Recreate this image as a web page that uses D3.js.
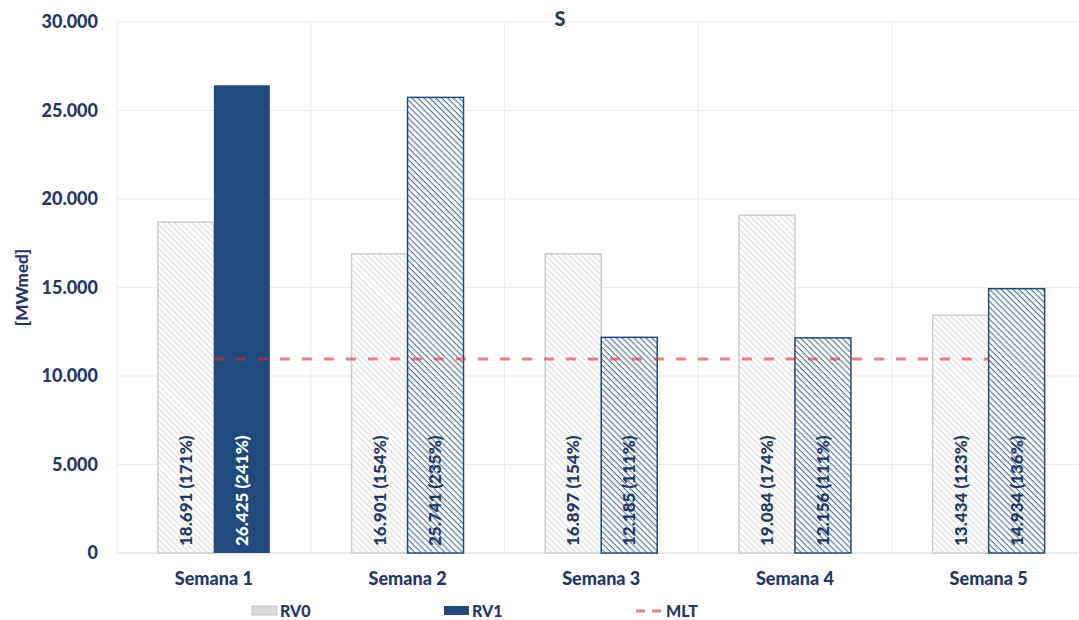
<!DOCTYPE html>
<html><head><meta charset="utf-8">
<script src="https://cdn.jsdelivr.net/npm/d3@7"></script>
<style>body{margin:0;background:#fff}svg{display:block;font-family:Lato,"Open Sans",sans-serif}</style>
</head><body><svg id="c" width="1079" height="620"></svg>
<script>
const categories = ["Semana 1","Semana 2","Semana 3","Semana 4","Semana 5"];
const rv0 = [18691, 16901, 16897, 19084, 13434];
const rv1 = [26425, 25741, 12185, 12156, 14934];
const rv0Pct = [171, 154, 154, 174, 123];
const rv1Pct = [241, 235, 111, 111, 136];
const mlt = [10960, 10960, 10960, 10960, 10960];
const yTicks = [0, 5000, 10000, 15000, 20000, 25000, 30000];
const seriesNames = ["RV0", "RV1", "MLT"];
const title = "S";
const yTitle = "[MWmed]";

const navy = "#1F3864", barNavy = "#204A7C";
const svg = d3.select("#c");
const L = 117, R = 1085.5, T = 22, B = 553;
const x0 = d3.scaleBand().domain(categories).range([L, R]).padding(0);
const x1 = d3.scaleBand().domain(["RV0","RV1"]).range([0, x0.bandwidth()]).paddingInner(0).paddingOuter(0.73);
const y = d3.scaleLinear().domain([0, 30000]).range([B, T]);
const fmt = v => d3.format(",")(v).replace(/,/g, ".");

const defs = svg.append("defs");
function hatch(id, color, w){
  const p = defs.append("pattern").attr("id", id).attr("patternUnits","userSpaceOnUse")
    .attr("width", 4.2).attr("height", 4.2).attr("patternTransform","rotate(45)");
  p.append("rect").attr("width",4.2).attr("height",4.2).attr("fill","#fff");
  p.append("rect").attr("x",0).attr("y",0).attr("width",4.2).attr("height",w).attr("fill",color);
}
hatch("hGray", "#dcdcdc", 1.1);
hatch("hNavy", "#4C70A3", 1.1);

// grid
svg.append("g").selectAll("line").data(yTicks).join("line")
  .attr("x1", L).attr("x2", R).attr("y1", d => y(d)).attr("y2", d => y(d))
  .attr("stroke", d => d === 0 ? "#d6d6d6" : "#ececec").attr("stroke-width", 1);
svg.append("g").selectAll("line").data(categories).join("line")
  .attr("x1", d => x0(d)).attr("x2", d => x0(d)).attr("y1", T).attr("y2", B)
  .attr("stroke", "#ececec");

// y labels
svg.append("g").selectAll("text").data(yTicks).join("text")
  .attr("x", 98).attr("y", d => y(d)).attr("dy", "0.35em").attr("text-anchor","end")
  .attr("fill", navy).attr("font-weight","900").attr("font-size", 18).text(fmt);

// bars
const g = svg.append("g");
categories.forEach((c, i) => {
  g.append("rect").attr("x", x0(c) + x1("RV0")).attr("y", y(rv0[i]))
    .attr("width", x1.bandwidth()).attr("height", B - y(rv0[i]))
    .attr("fill", "url(#hGray)").attr("stroke", "#cccccc").attr("stroke-width", 1.5);
  g.append("rect").attr("x", x0(c) + x1("RV1")).attr("y", y(rv1[i]))
    .attr("width", x1.bandwidth()).attr("height", B - y(rv1[i]))
    .attr("fill", i === 0 ? barNavy : "url(#hNavy)").attr("stroke", barNavy).attr("stroke-width", i === 0 ? 0 : 1.5);
});

// labels
categories.forEach((c, i) => {
  [["RV0", rv0[i], rv0Pct[i], navy], ["RV1", rv1[i], rv1Pct[i], i === 0 ? "#fff" : navy]].forEach(([s, v, p, col]) => {
    const cx = x0(c) + x1(s) + x1.bandwidth()/2;
    svg.append("text").attr("transform", `translate(${cx},${B - 7}) rotate(-90)`)
      .attr("dy", "0.35em").attr("fill", col).attr("font-weight","900").attr("font-size", 17)
      .text(`${fmt(v)} (${p}%)`);
  });
});

// MLT line
const line = d3.line().x((d, i) => x0(categories[i]) + x0.bandwidth()/2).y(d => y(d));
svg.append("path").datum(mlt).attr("d", line).attr("fill","none")
  .attr("stroke", "rgb(213,47,47)").attr("stroke-opacity", 0.6).attr("stroke-width", 3)
  .attr("stroke-dasharray", "10,12");

// x labels
svg.append("g").selectAll("text").data(categories).join("text")
  .attr("x", d => x0(d) + x0.bandwidth()/2).attr("y", 579).attr("dy","0.35em").attr("text-anchor","middle")
  .attr("fill", navy).attr("font-weight","900").attr("font-size", 18).text(d => d);

// title
svg.append("text").attr("x", 560).attr("y", 19).attr("dy","0.35em").attr("text-anchor","middle")
  .attr("fill", navy).attr("font-weight","900").attr("font-size", 20).text(title);
svg.append("text").attr("transform", `translate(22,${(T+B)/2}) rotate(-90)`).attr("dy","0.35em")
  .attr("text-anchor","middle").attr("fill", navy).attr("font-weight","900").attr("font-size", 17).text(yTitle);

// legend
const lg = svg.append("g").attr("font-weight","900").attr("font-size", 16).attr("fill", navy);
lg.append("rect").attr("x", 252).attr("y", 606).attr("width", 25).attr("height", 9).attr("fill","#d9d9d9").attr("stroke","#c6c6c6");
lg.append("text").attr("x", 280).attr("y", 611).attr("dy","0.35em").text(seriesNames[0]);
lg.append("rect").attr("x", 444).attr("y", 606).attr("width", 25).attr("height", 9).attr("fill", barNavy);
lg.append("text").attr("x", 472).attr("y", 611).attr("dy","0.35em").text(seriesNames[1]);
lg.append("line").attr("x1", 636).attr("x2", 662).attr("y1", 611).attr("y2", 611)
  .attr("stroke","rgb(213,47,47)").attr("stroke-opacity",0.6).attr("stroke-width",3).attr("stroke-dasharray","9,7");
lg.append("text").attr("x", 666).attr("y", 611).attr("dy","0.35em").text(seriesNames[2]);
</script></body></html>
